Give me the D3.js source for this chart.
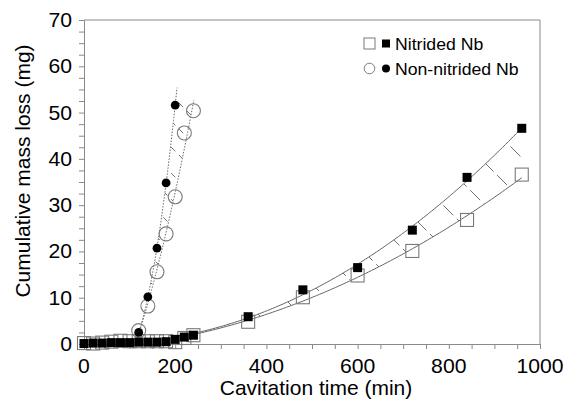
<!DOCTYPE html>
<html><head><meta charset="utf-8">
<script src="https://cdn.jsdelivr.net/npm/d3@7/dist/d3.min.js"></script>
<style>body{margin:0;background:#fff}text{font-family:"Liberation Sans",Arial,sans-serif;fill:#000}</style>
</head><body>
<svg id="c" width="576" height="405"></svg>
<script>
// ---------- data ----------
const xTicks = [0, 200, 400, 600, 800, 1000];
const yTicks = [0, 10, 20, 30, 40, 50, 60, 70];
const nitTime   = [0, 20, 40, 60, 80, 100, 120, 140, 160, 180, 200, 220, 240, 360, 480, 600, 720, 840, 960];
const nitFilled = [0.1, 0.2, 0.2, 0.3, 0.3, 0.3, 0.4, 0.4, 0.4, 0.5, 1.0, 1.5, 1.9, 5.9, 11.7, 16.5, 24.6, 36.0, 46.6];
const nitOpen   = [0.2, 0.1, 0.3, 0.5, 0.7, 0.6, 0.6, 0.6, 0.6, 0.6, 0.4, 1.3, 1.9, 4.8, 10.1, 14.8, 20.1, 26.8, 36.6];
const nonTime   = [120, 140, 160, 180, 200];
const nonFilled = [2.5, 10.2, 20.7, 34.8, 51.6];
const nonTimeOpen = [120, 140, 160, 180, 200, 220, 240];
const nonOpen     = [2.9, 8.2, 15.6, 23.8, 31.8, 45.6, 50.4];
const legendLabels = ["Nitrided Nb", "Non-nitrided Nb"];
// fit ranges (min)
const nitFitRange = [240, 960];
const nonFilledFitEnd = 204;
const nonOpenFitEnd = 241;

// ---------- layout ----------
const svg = d3.select("#c");
const L = 84, R = 540, T = 20, B = 344;
const x = d3.scaleLinear().domain([0, 1000]).range([L, R]);
const y = d3.scaleLinear().domain([0, 70]).range([B, T]);
const axisCol = "#8a8a8a";

function quadFit(xs, ys) {
  const m = d3.mean(xs), s = 100;
  let S = [0,0,0,0,0], Sy = [0,0,0];
  xs.forEach((xv, i) => {
    const u = (xv - m) / s;
    for (let k = 0; k < 5; k++) S[k] += Math.pow(u, k);
    for (let k = 0; k < 3; k++) Sy[k] += Math.pow(u, k) * ys[i];
  });
  const A = [[S[0],S[1],S[2]],[S[1],S[2],S[3]],[S[2],S[3],S[4]]];
  const det = M => M[0][0]*(M[1][1]*M[2][2]-M[1][2]*M[2][1]) - M[0][1]*(M[1][0]*M[2][2]-M[1][2]*M[2][0]) + M[0][2]*(M[1][0]*M[2][1]-M[1][1]*M[2][0]);
  const D = det(A);
  const coef = [0,1,2].map(j => det(A.map((row, r) => row.map((v, c) => c === j ? Sy[r] : v))) / D);
  return t => { const u = (t - m) / s; return coef[0] + coef[1]*u + coef[2]*u*u; };
}
function sample(f, t0, t1, n = 120) {
  return d3.range(n + 1).map(i => { const t = t0 + (t1 - t0) * i / n; return [t, f(t)]; });
}
function rootStart(f, tmin, tmax) {
  for (let t = tmin; t < tmax; t += 0.5) if (f(t) >= 0.3) return t;
  return tmin;
}

// fits
const nitIdx = nitTime.map((t, i) => i).filter(i => nitTime[i] >= nitFitRange[0]);
const fNitF = quadFit(nitIdx.map(i => nitTime[i]), nitIdx.map(i => nitFilled[i]));
const fNitO = quadFit(nitIdx.map(i => nitTime[i]), nitIdx.map(i => nitOpen[i]));
const fNonF = quadFit(nonTime, nonFilled);
const fNonO = quadFit(nonTimeOpen, nonOpen);

const ptsNitF = sample(fNitF, nitFitRange[0], nitFitRange[1]);
const ptsNitO = sample(fNitO, nitFitRange[0], nitFitRange[1]);
const sF = rootStart(fNonF, 95, 150), sO = rootStart(fNonO, 95, 150);
const ptsNonF = sample(fNonF, sF, nonFilledFitEnd);
const ptsNonO = sample(fNonO, sO, nonOpenFitEnd);

const line = d3.line().x(d => x(d[0])).y(d => y(d[1]));

// ---------- hatch bands ----------
const defs = svg.append("defs");
function band(id, upper, lower, step, dash) {
  const poly = upper.concat(lower.slice().reverse()).map(d => [x(d[0]), y(d[1])]);
  defs.append("clipPath").attr("id", id).append("path").attr("d", "M" + poly.join("L") + "Z");
  const g = svg.append("g").attr("clip-path", `url(#${id})`);
  const cs = d3.range(-700, 500, step);
  g.selectAll("line").data(cs).join("line")
    .attr("x1", 0).attr("y1", c => c).attr("x2", 600).attr("y2", c => 600 + c)
    .attr("stroke", "#707070").attr("stroke-width", 1).attr("stroke-dasharray", dash);
}
band("bn", ptsNitF, ptsNitO, 42, "14,5");
band("bo", ptsNonF, ptsNonO, 26, "6,5");

// ---------- axes ----------
const gx = svg.append("g").attr("transform", `translate(0,${B})`);
gx.call(d3.axisBottom(x).tickValues(d3.range(0, 1001, 50)).tickSize(5).tickFormat(""));
const gy = svg.append("g").attr("transform", `translate(${L},0)`);
gy.call(d3.axisLeft(y).tickValues(d3.range(0, 70.01, 2.5)).tickSize(5).tickFormat(""));
[gx, gy].forEach(g => { g.selectAll("path,line").attr("stroke", axisCol); });
// frame top & right
svg.append("line").attr("x1", L).attr("x2", R).attr("y1", T).attr("y2", T).attr("stroke", axisCol);
svg.append("line").attr("x1", R).attr("x2", R).attr("y1", T).attr("y2", B).attr("stroke", axisCol);

const sx = 1.06;
svg.append("g").selectAll("text").data(xTicks).join("text")
  .attr("transform", d => `translate(${x(d)},372.5) scale(${sx},1)`)
  .attr("text-anchor", "middle").style("font-size", "20px").text(d => d);
svg.append("g").selectAll("text").data(yTicks).join("text")
  .attr("transform", d => `translate(72,${y(d) + 7}) scale(${sx},1)`)
  .attr("text-anchor", "end").style("font-size", "20px").text(d => d);

svg.append("text").attr("x", (L + R) / 2 + 4).attr("y", 395).attr("text-anchor", "middle")
  .style("font-size", "21px").text("Cavitation time (min)");
svg.append("text").attr("transform", `translate(30,171) rotate(-90)`).attr("text-anchor", "middle")
  .style("font-size", "21px").text("Cumulative mass loss (mg)");

// ---------- fit curves ----------
svg.append("path").attr("d", line(ptsNitF)).attr("fill", "none").attr("stroke", "#666").attr("stroke-width", 1);
svg.append("path").attr("d", line(ptsNitO)).attr("fill", "none").attr("stroke", "#666").attr("stroke-width", 1);
svg.append("path").attr("d", line(ptsNonF)).attr("fill", "none").attr("stroke", "#666").attr("stroke-width", 1).attr("stroke-dasharray", "1.5,1.5");
svg.append("path").attr("d", line(ptsNonO)).attr("fill", "none").attr("stroke", "#666").attr("stroke-width", 1).attr("stroke-dasharray", "1.5,1.5");

// ---------- markers ----------
const openCol = "#7a7a7a";
const nitO = nitTime.map((t, i) => [t, nitOpen[i]]);
const nitF = nitTime.map((t, i) => [t, nitFilled[i]]);
const nonO = nonTimeOpen.map((t, i) => [t, nonOpen[i]]);
const nonF = nonTime.map((t, i) => [t, nonFilled[i]]);
svg.append("g").selectAll("rect").data(nitO).join("rect")
  .attr("x", d => x(d[0]) - 6.5).attr("y", d => y(d[1]) - 6.5).attr("width", 13).attr("height", 13)
  .attr("fill", "none").attr("stroke", openCol).attr("stroke-width", 1.1);
svg.append("g").selectAll("circle").data(nonO).join("circle")
  .attr("cx", d => x(d[0])).attr("cy", d => y(d[1])).attr("r", 7)
  .attr("fill", "none").attr("stroke", openCol).attr("stroke-width", 1.1);
svg.append("g").selectAll("rect").data(nitF).join("rect")
  .attr("x", d => x(d[0]) - 4.5).attr("y", d => y(d[1]) - 4.5).attr("width", 9).attr("height", 9)
  .attr("fill", "#000");
svg.append("g").selectAll("circle").data(nonF).join("circle")
  .attr("cx", d => x(d[0])).attr("cy", d => y(d[1])).attr("r", 4.4).attr("fill", "#000");

// ---------- legend ----------
const lg = svg.append("g");
lg.append("rect").attr("x", 364).attr("y", 38).attr("width", 11).attr("height", 11).attr("fill", "none").attr("stroke", openCol);
lg.append("rect").attr("x", 382).attr("y", 39.5).attr("width", 8).attr("height", 8).attr("fill", "#000");
lg.append("circle").attr("cx", 369.5).attr("cy", 68.5).attr("r", 5.3).attr("fill", "none").attr("stroke", openCol);
lg.append("circle").attr("cx", 386).attr("cy", 68.5).attr("r", 4).attr("fill", "#000");
lg.selectAll("text.lt").data(legendLabels).join("text").attr("class", "lt")
  .attr("transform", (d, i) => `translate(395,${49.5 + i * 25}) scale(1.05,1)`)
  .style("font-size", "16.8px").text(d => d);
</script>
</body></html>
